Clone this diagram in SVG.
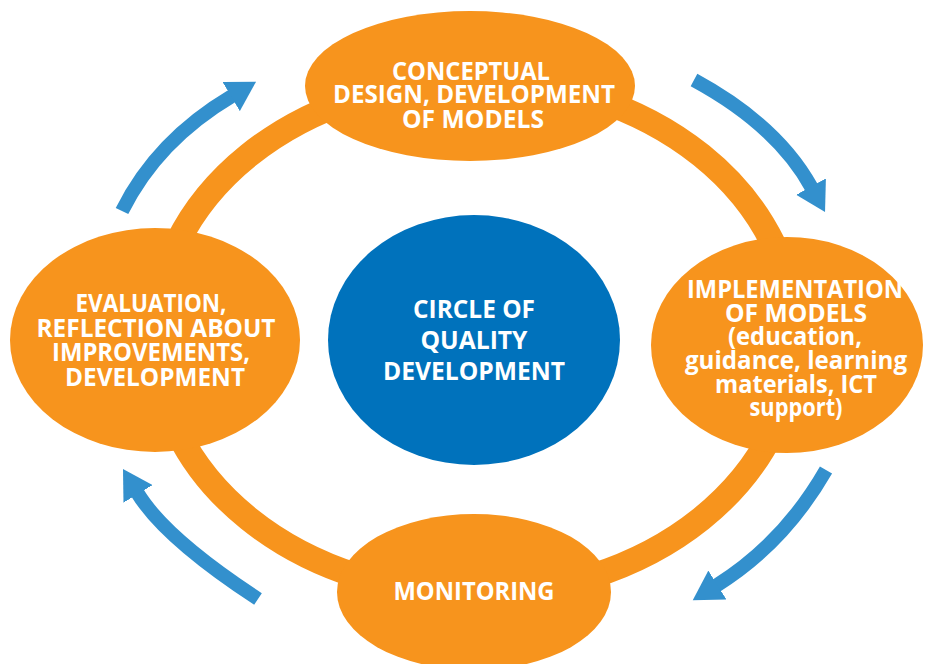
<svg xmlns="http://www.w3.org/2000/svg" width="928" height="664" viewBox="0 0 928 664">
<defs>
<style>
.node{fill:#F7941D}
.center{fill:#0072BC}
.ring{fill:none;stroke:#F7941D;stroke-width:25}
.arrow{fill:none;stroke:#3390CD;stroke-width:14;stroke-linecap:butt}
.t{font-family:"Open Sans","Liberation Sans",sans-serif;font-weight:bold;font-size:25px;fill:#FFFFFF;text-anchor:middle}
</style>
<marker id="head" markerUnits="userSpaceOnUse" markerWidth="30" markerHeight="34" viewBox="0 0 30 34" refX="1" refY="17" orient="auto">
<path d="M0,0 L29,17 L0,34 Z" fill="#3390CD"/>
</marker>
</defs>
<rect width="928" height="664" fill="#FFFFFF"/>
<ellipse class="ring" cx="475" cy="337" rx="320" ry="257"/>
<g id="connectors">
<path class="arrow" d="M122,211 Q157,140.5 232,96" marker-end="url(#head)"/>
<path class="arrow" d="M694,80 Q777,125 811.5,187.5" marker-end="url(#head)"/>
<path class="arrow" d="M826,470 Q783.6,543.7 716.5,585.5" marker-end="url(#head)"/>
<path class="arrow" d="M258,599 Q164.7,537.9 137.5,493" marker-end="url(#head)"/>
</g>
<g id="node-conceptual">
<ellipse class="node" cx="470" cy="86" rx="165" ry="75"/>
<text class="t" x="471" y="80" textLength="158" lengthAdjust="spacingAndGlyphs">CONCEPTUAL</text>
<text class="t" x="474" y="103" textLength="282" lengthAdjust="spacingAndGlyphs">DESIGN, DEVELOPMENT</text>
<text class="t" x="473" y="128" textLength="142" lengthAdjust="spacingAndGlyphs">OF MODELS</text>
</g>
<g id="node-implementation">
<ellipse class="node" cx="787" cy="345" rx="136" ry="108"/>
<text class="t" x="795" y="298" textLength="216" lengthAdjust="spacingAndGlyphs">IMPLEMENTATION</text>
<text class="t" x="796" y="322" textLength="142" lengthAdjust="spacingAndGlyphs">OF MODELS</text>
<text class="t" x="795" y="345" textLength="134" lengthAdjust="spacingAndGlyphs">(education,</text>
<text class="t" x="796" y="369" textLength="222" lengthAdjust="spacingAndGlyphs">guidance, learning</text>
<text class="t" x="796" y="393" textLength="162" lengthAdjust="spacingAndGlyphs">materials, ICT</text>
<text class="t" x="796" y="416" textLength="93" lengthAdjust="spacingAndGlyphs">support)</text>
</g>
<g id="node-monitoring">
<ellipse class="node" cx="474" cy="592" rx="137" ry="78"/>
<text class="t" x="474" y="600" textLength="161" lengthAdjust="spacingAndGlyphs">MONITORING</text>
</g>
<g id="node-evaluation">
<ellipse class="node" cx="155" cy="340" rx="145" ry="112"/>
<text class="t" x="151" y="312" textLength="151" lengthAdjust="spacingAndGlyphs">EVALUATION,</text>
<text class="t" x="156" y="337" textLength="239" lengthAdjust="spacingAndGlyphs">REFLECTION ABOUT</text>
<text class="t" x="151" y="361" textLength="198" lengthAdjust="spacingAndGlyphs">IMPROVEMENTS,</text>
<text class="t" x="155" y="386" textLength="180" lengthAdjust="spacingAndGlyphs">DEVELOPMENT</text>
</g>
<g id="node-center">
<ellipse class="center" cx="474" cy="340" rx="146" ry="125"/>
<text class="t" x="474" y="318" textLength="122" lengthAdjust="spacingAndGlyphs">CIRCLE OF</text>
<text class="t" x="474" y="349" textLength="107" lengthAdjust="spacingAndGlyphs">QUALITY</text>
<text class="t" x="474" y="380" textLength="182" lengthAdjust="spacingAndGlyphs">DEVELOPMENT</text>
</g>
</svg>
